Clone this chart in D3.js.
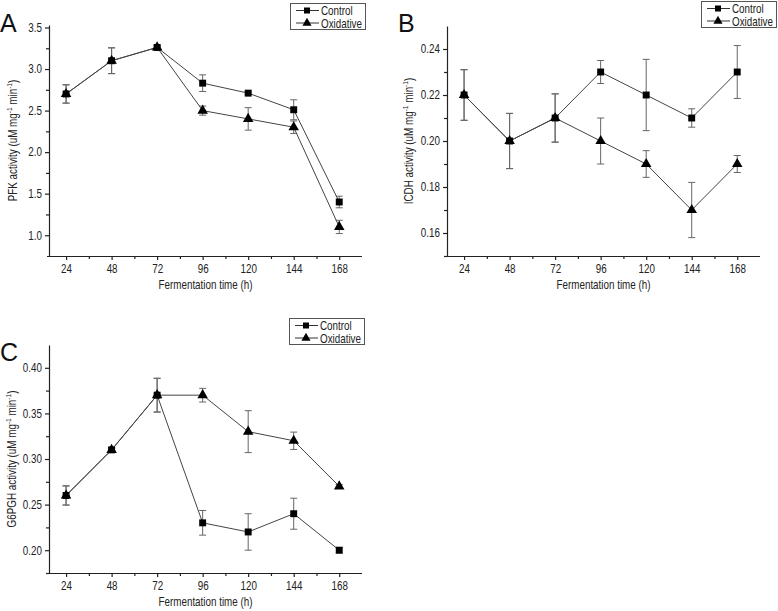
<!DOCTYPE html>
<html>
<head>
<meta charset="utf-8">
<script src="https://cdn.jsdelivr.net/npm/d3@7"></script>
<style>
  html, body { margin: 0; padding: 0; background: #fff; }
  svg { display: block; font-family: "Liberation Sans", Arial, sans-serif; }
</style>
</head>
<body>
<svg id="chart" width="778" height="611"></svg>
<script>
// ---- Data ----
const times = [24, 48, 72, 96, 120, 144, 168];
const xTicks = [24, 48, 72, 96, 120, 144, 168];
const seriesNames = ["Control", "Oxidative"];

// Panel A: PFK
const pfkControl = [2.70, 3.10, 3.26, 2.83, 2.71, 2.51, 1.40];
const pfkControlErr = [0.11, 0.155, 0.02, 0.10, 0.015, 0.12, 0.07];
const pfkOxidative = [2.70, 3.10, 3.26, 2.50, 2.40, 2.30, 1.10];
const pfkOxidativeErr = [0.11, 0.155, 0.02, 0.055, 0.135, 0.075, 0.08];
const pfkTicks = [1.0, 1.5, 2.0, 2.5, 3.0, 3.5];

// Panel B: ICDH
const icdhControl = [0.22, 0.20, 0.21, 0.23, 0.22, 0.21, 0.23];
const icdhControlErr = [0.011, 0.012, 0.0105, 0.005, 0.0155, 0.004, 0.0115];
const icdhOxidative = [0.22, 0.20, 0.21, 0.20, 0.19, 0.17, 0.19];
const icdhOxidativeErr = [0.011, 0.012, 0.0105, 0.010, 0.0058, 0.012, 0.0037];
const icdhTicks = [0.16, 0.18, 0.20, 0.22, 0.24];

// Panel C: G6PGH
const g6pghControl = [0.26, 0.31, 0.37, 0.23, 0.22, 0.24, 0.20];
const g6pghControlErr = [0.0105, 0.002, 0.0185, 0.0135, 0.020, 0.017, 0.003];
const g6pghOxidative = [0.26, 0.31, 0.37, 0.37, 0.33, 0.32, 0.27];
const g6pghOxidativeErr = [0.0105, 0.002, 0.0185, 0.0075, 0.023, 0.0095, 0.002];
const g6pghTicks = [0.20, 0.25, 0.30, 0.35, 0.40];

// ---- Drawing ----
const FONT = "Liberation Sans, Arial, sans-serif";
const NARROW = 0.82;
const svg = d3.select("#chart");

// narrow text helper: draws a horizontally condensed text at (x, y)
function ntext(parent, x, y, str, anchor, rot) {
  const t = parent.append("text")
    .attr("transform", `translate(${x},${y})${rot ? " rotate(" + rot + ")" : ""} scale(${NARROW},1)`)
    .attr("text-anchor", anchor || "start").attr("font-size", 12).attr("fill", "#222")
    .attr("font-family", FONT);
  if (str !== null) t.text(str);
  return t;
}

function drawPanel(cfg) {
  const g = svg.append("g");
  const x = d3.scaleLinear().domain([15, 180]).range([cfg.left, cfg.right]);
  const y = d3.scaleLinear().domain(cfg.yDomain).range([cfg.bottom, cfg.top]);

  // x axis
  const xMinor = d3.range(36, 180, 24);
  g.append("g").attr("transform", `translate(0,${cfg.bottom})`)
    .call(d3.axisBottom(x).tickValues(xMinor).tickSize(3).tickFormat(""))
    .call(a => a.select(".domain").remove());
  const xa = g.append("g").attr("transform", `translate(0,${cfg.bottom})`)
    .call(d3.axisBottom(x).tickValues(xTicks).tickSize(4).tickPadding(4).tickSizeOuter(0).tickFormat(d3.format("d")));
  xa.select(".domain").attr("d", `M${cfg.left - 2},0.5H${cfg.right}`);
  xa.selectAll(".tick text").attr("transform", `scale(${NARROW},1)`);

  // y axis
  const step = cfg.yTicks[1] - cfg.yTicks[0];
  const yMinor = cfg.yTicks.map(v => v - step / 2).concat([cfg.yTicks[cfg.yTicks.length - 1] + step / 2])
    .filter(v => v > cfg.yDomain[0] && v < cfg.yDomain[1]);
  g.append("g").attr("transform", `translate(${cfg.left},0)`)
    .call(d3.axisLeft(y).tickValues(yMinor).tickSize(3).tickFormat(""))
    .call(a => a.select(".domain").remove());
  const ya = g.append("g").attr("transform", `translate(${cfg.left},0)`)
    .call(d3.axisLeft(y).tickValues(cfg.yTicks).tickSize(4).tickPadding(3).tickSizeOuter(0).tickFormat(d3.format(cfg.fmt)));
  ya.selectAll(".tick text").attr("x", -7 / NARROW).attr("transform", `scale(${NARROW},1)`);

  g.selectAll(".tick text").attr("font-size", 12).attr("fill", "#222").attr("font-family", FONT);
  g.selectAll(".tick line, .domain").attr("stroke", "#222").attr("stroke-width", 1.2);

  // axis labels
  ntext(g, (cfg.left + cfg.right) / 2, cfg.bottom + 33, "Fermentation time (h)", "middle");
  const yl = ntext(g, cfg.yLabelX, (cfg.top + cfg.bottom) / 2, null, "middle", -90);
  yl.append("tspan").text(cfg.enzyme + " activity (uM mg");
  yl.append("tspan").attr("font-size", 8).attr("dy", -5).text("-1");
  yl.append("tspan").attr("dy", 5).text(" min");
  yl.append("tspan").attr("font-size", 8).attr("dy", -5).text("-1");
  yl.append("tspan").attr("dy", 5).text(")");

  // panel letter
  g.append("text").attr("x", cfg.letterX).attr("y", cfg.letterY)
    .attr("font-family", FONT).attr("font-size", 25).attr("fill", "#111").text(cfg.letter);

  const series = [
    { name: seriesNames[0], vals: cfg.control, errs: cfg.controlErr, sym: d3.symbolSquare, size: 48 },
    { name: seriesNames[1], vals: cfg.oxidative, errs: cfg.oxidativeErr, sym: d3.symbolTriangle, size: 48 }
  ];
  const line = d3.line().x((d, i) => x(times[i])).y(d => y(d));

  // error bars
  series.forEach(s => {
    const eb = g.append("g").attr("stroke", "#666").attr("stroke-width", 1);
    s.vals.forEach((v, i) => {
      const cx = x(times[i]), y1 = y(v + s.errs[i]), y0 = y(v - s.errs[i]);
      eb.append("line").attr("x1", cx).attr("x2", cx).attr("y1", y1).attr("y2", y0);
      eb.append("line").attr("x1", cx - 3.5).attr("x2", cx + 3.5).attr("y1", y1).attr("y2", y1);
      eb.append("line").attr("x1", cx - 3.5).attr("x2", cx + 3.5).attr("y1", y0).attr("y2", y0);
    });
  });
  // lines
  series.slice().reverse().forEach(s => {
    g.append("path").datum(s.vals).attr("d", line).attr("fill", "none")
      .attr("stroke", "#444").attr("stroke-width", 1);
  });
  // markers
  series.slice().reverse().forEach(s => {
    g.selectAll(null).data(s.vals).enter().append("path")
      .attr("transform", (d, i) => `translate(${x(times[i])},${y(d)})`)
      .attr("d", d3.symbol().type(s.sym).size(s.size)).attr("fill", "#000");
  });

  // legend
  const lg = g.append("g");
  lg.append("rect").attr("x", cfg.legX + 0.5).attr("y", cfg.legY + 0.5).attr("width", 75).attr("height", 26)
    .attr("fill", "#fff").attr("stroke", "#555").attr("stroke-width", 1);
  series.forEach((s, k) => {
    const ly = cfg.legY + 7.5 + k * 12.5;
    lg.append("line").attr("x1", cfg.legX + 6).attr("x2", cfg.legX + 29).attr("y1", ly).attr("y2", ly)
      .attr("stroke", "#333").attr("stroke-width", 1);
    lg.append("path").attr("transform", `translate(${cfg.legX + 17},${ly})`)
      .attr("d", d3.symbol().type(s.sym).size(36)).attr("fill", "#000");
    ntext(lg, cfg.legX + 31, ly + 4.5, s.name, "start");
  });
}

drawPanel({
  letter: "A", letterX: 0, letterY: 32, enzyme: "PFK",
  left: 49, right: 362, top: 25, bottom: 256, yDomain: [0.75, 3.53], yTicks: pfkTicks, fmt: ".1f",
  control: pfkControl, controlErr: pfkControlErr, oxidative: pfkOxidative, oxidativeErr: pfkOxidativeErr,
  yLabelX: 17, legX: 290, legY: 3
});
drawPanel({
  letter: "B", letterX: 398, letterY: 32, enzyme: "ICDH",
  left: 447, right: 760, top: 26, bottom: 256, yDomain: [0.15, 0.25], yTicks: icdhTicks, fmt: ".2f",
  control: icdhControl, controlErr: icdhControlErr, oxidative: icdhOxidative, oxidativeErr: icdhOxidativeErr,
  yLabelX: 413, legX: 701, legY: 1
});
drawPanel({
  letter: "C", letterX: 0, letterY: 361, enzyme: "G6PGH",
  left: 49, right: 362, top: 345, bottom: 573, yDomain: [0.175, 0.425], yTicks: g6pghTicks, fmt: ".2f",
  control: g6pghControl, controlErr: g6pghControlErr, oxidative: g6pghOxidative, oxidativeErr: g6pghOxidativeErr,
  yLabelX: 16, legX: 289, legY: 318
});
</script>
</body>
</html>
